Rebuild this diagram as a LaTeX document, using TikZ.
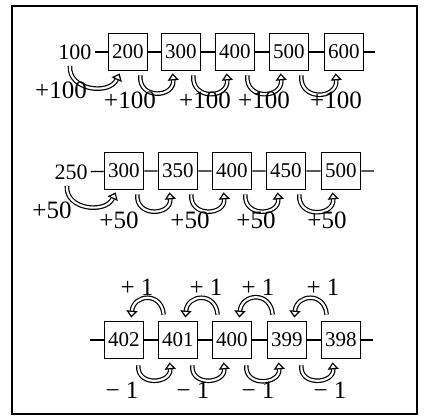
\documentclass[tikz,border=0pt]{standalone}
\usepackage{fontspec}
\setmainfont{Liberation Serif}
\usepackage{tikz}
\usetikzlibrary{arrows.meta}

\begin{document}
\begin{tikzpicture}[
    x=0.5pt, y=0.5pt,
    caja/.style={draw, line width=0.85pt, minimum width=19.5pt, minimum height=18.5pt, inner sep=0pt, font=\fontsize{10.5}{12}\selectfont},
    etiq/.style={font=\fontsize{12.5}{14}\selectfont, inner sep=0pt},
    inicio/.style={font=\fontsize{11}{12}\selectfont, inner sep=1.5pt},
    enlace/.style={line width=0.65pt},
    salto/.style={line width=0.6pt, double=white, double distance=1.1pt, -{Triangle[open, length=3.5pt, width=5.5pt, fill=white]}}
  ]
  \useasboundingbox (0,0) rectangle (425,-419);
  \draw[line width=1pt] (12,-6) rectangle (417,-414);

  % Fila 1: de 100 en 100
  \node[inicio] (a0) at (75,-52) {100};
  \node[caja] (a1) at (128,-52) {200};
  \node[caja] (a2) at (181,-52) {300};
  \node[caja] (a3) at (235,-52) {400};
  \node[caja] (a4) at (289,-52) {500};
  \node[caja] (a5) at (344,-52) {600};
  \coordinate (a6) at (375,-52);
  \draw[enlace] (a0) -- (a1) -- (a2) -- (a3) -- (a4) -- (a5) -- (a6);
  \draw[salto] ([shift={(-5,-3)}]a0.south) to[out=-95, in=-115, looseness=1.25] ([shift={(12,-2)}]a1.south west);
  \draw[salto] ([shift={(-8,-4)}]a1.south east) to[out=-95, in=-85, looseness=1.95] ([shift={(12,-2)}]a2.south west);
  \draw[salto] ([shift={(-8,-4)}]a2.south east) to[out=-95, in=-85, looseness=1.95] ([shift={(12,-2)}]a3.south west);
  \draw[salto] ([shift={(-8,-4)}]a3.south east) to[out=-95, in=-85, looseness=1.95] ([shift={(12,-2)}]a4.south west);
  \draw[salto] ([shift={(-8,-4)}]a4.south east) to[out=-95, in=-85, looseness=1.95] ([shift={(12,-2)}]a5.south west);
  \node[etiq] (p1) at (61,-90) {+100};
  \node[etiq] (p2) at (130,-100) {+100};
  \node[etiq] (p3) at (205,-100) {+100};
  \node[etiq] (p4) at (264,-100) {+100};
  \node[etiq] (p5) at (336,-100) {+100};

  % Fila 2: de 50 en 50
  \node[inicio] (b0) at (71,-172) {250};
  \node[caja] (b1) at (124,-171) {300};
  \node[caja] (b2) at (178,-171) {350};
  \node[caja] (b3) at (232,-171) {400};
  \node[caja] (b4) at (286,-171) {450};
  \node[caja] (b5) at (341,-171) {500};
  \coordinate (b6) at (374,-171);
  \draw[enlace] (b0) -- (b1) -- (b2) -- (b3) -- (b4) -- (b5) -- (b6);
  \draw[salto] ([shift={(-4,-3)}]b0.south) to[out=-95, in=-115, looseness=1.25] ([shift={(12,-2)}]b1.south west);
  \draw[salto] ([shift={(-7,-4)}]b1.south east) to[out=-95, in=-85, looseness=1.85] ([shift={(12,-2)}]b2.south west);
  \draw[salto] ([shift={(-7,-4)}]b2.south east) to[out=-95, in=-85, looseness=1.85] ([shift={(12,-2)}]b3.south west);
  \draw[salto] ([shift={(-7,-4)}]b3.south east) to[out=-95, in=-85, looseness=1.85] ([shift={(12,-2)}]b4.south west);
  \draw[salto] ([shift={(-7,-4)}]b4.south east) to[out=-95, in=-85, looseness=1.85] ([shift={(12,-2)}]b5.south west);
  \node[etiq] (q1) at (52,-210) {+50};
  \node[etiq] (q2) at (119,-220) {+50};
  \node[etiq] (q3) at (190,-220) {+50};
  \node[etiq] (q4) at (256,-220) {+50};
  \node[etiq] (q5) at (327,-220) {+50};

  % Fila 3: hacia los dos lados
  \coordinate (c0) at (90,-340);
  \node[caja] (c1) at (124,-340) {402};
  \node[caja] (c2) at (178,-340) {401};
  \node[caja] (c3) at (232,-340) {400};
  \node[caja] (c4) at (287,-340) {399};
  \node[caja] (c5) at (341,-340) {398};
  \coordinate (c6) at (373,-340);
  \draw[enlace] (c0) -- (c1) -- (c2) -- (c3) -- (c4) -- (c5) -- (c6);
  \draw[salto] ([shift={(6,6)}]c2.north west) to[out=95, in=85, looseness=1.85] ([shift={(-13,3)}]c1.north east);
  \draw[salto] ([shift={(6,6)}]c3.north west) to[out=95, in=85, looseness=1.85] ([shift={(-13,3)}]c2.north east);
  \draw[salto] ([shift={(6,6)}]c4.north west) to[out=95, in=85, looseness=1.85] ([shift={(-13,3)}]c3.north east);
  \draw[salto] ([shift={(6,6)}]c5.north west) to[out=95, in=85, looseness=1.85] ([shift={(-13,3)}]c4.north east);
  \draw[salto] ([shift={(-6,-6)}]c1.south east) to[out=-95, in=-85, looseness=1.75] ([shift={(12,-3)}]c2.south west);
  \draw[salto] ([shift={(-6,-6)}]c2.south east) to[out=-95, in=-85, looseness=1.75] ([shift={(12,-3)}]c3.south west);
  \draw[salto] ([shift={(-6,-6)}]c3.south east) to[out=-95, in=-85, looseness=1.75] ([shift={(12,-3)}]c4.south west);
  \draw[salto] ([shift={(-6,-6)}]c4.south east) to[out=-95, in=-85, looseness=1.75] ([shift={(12,-3)}]c5.south west);
  \node[etiq] (r1) at (137,-287) {+ 1};
  \node[etiq] (r2) at (206,-287) {+ 1};
  \node[etiq] (r3) at (258,-287) {+ 1};
  \node[etiq] (r4) at (323,-287) {+ 1};
  \node[etiq] (s1) at (122,-390) {− 1};
  \node[etiq] (s2) at (193,-390) {− 1};
  \node[etiq] (s3) at (258,-390) {− 1};
  \node[etiq] (s4) at (330,-390) {− 1};
\end{tikzpicture}
\end{document}
